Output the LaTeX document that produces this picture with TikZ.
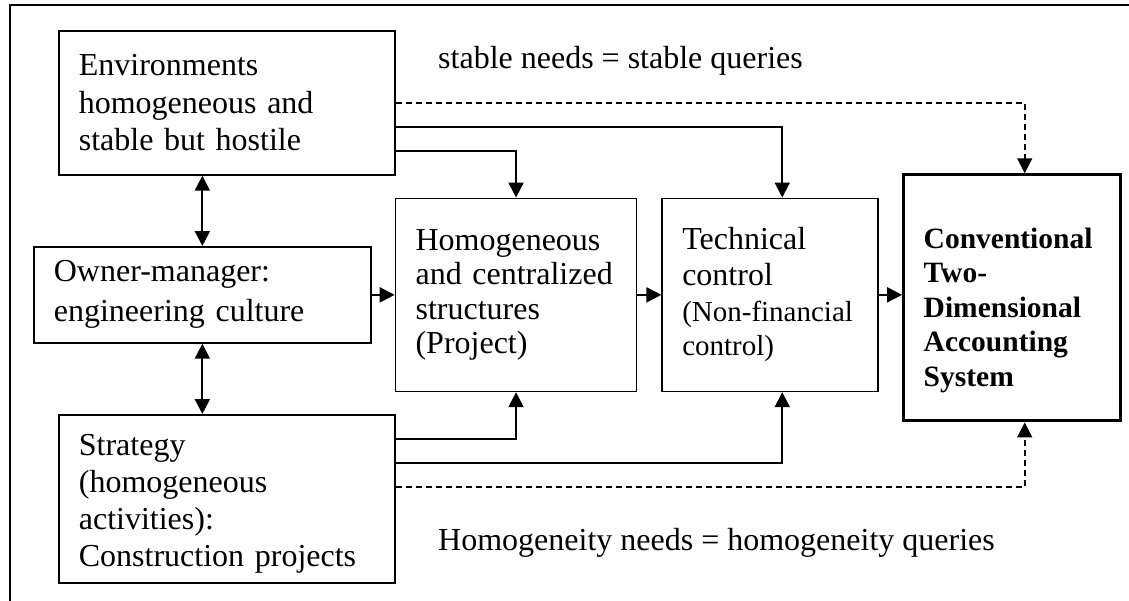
\documentclass[tikz,border=0pt]{standalone}
\usepackage{fontspec}
\setmainfont{Liberation Serif}
\usetikzlibrary{arrows.meta,positioning}

\newcommand{\boxfont}{\fontsize{32}{37}\selectfont}
\newcommand{\smallboxfont}{\fontsize{29}{34}\selectfont}
\newcommand{\convfont}{\fontsize{29.5}{34.5}\selectfont\bfseries}

\begin{document}
\begin{tikzpicture}[
    x=1pt, y=-1pt,
    node distance=23pt,
    box/.style={rectangle, draw, line width=1.7pt, align=left, inner xsep=20pt, inner ysep=0pt, font=\boxfont},
    arr/.style={-{Triangle[length=15pt,width=15pt]}, line width=2pt},
    biarr/.style={{Triangle[length=15pt,width=15pt]}-{Triangle[length=15pt,width=15pt]}, line width=2pt},
    dasharr/.style={-{Triangle[length=15pt,width=15pt]}, line width=1.6pt, dash pattern=on 6pt off 4pt},
    lbl/.style={anchor=base west, inner sep=0pt, font=\boxfont}
]
    \useasboundingbox (0,0) rectangle (1129,600);
    \draw[line width=1.7pt] (10,5) rectangle (1160,640);

    % Boxes
    \node[box, anchor=north west, text width=296pt, minimum height=144pt, font=\fontsize{32}{37.5}\selectfont] (env) at (58,30)
        {Environments\\homogeneous and\\stable but hostile};
    \node[box, anchor=north west, text width=297pt, minimum height=96pt, font=\fontsize{32}{40}\selectfont] (owner) at (33,246)
        {Owner-manager:\\engineering culture};
    \node[box, anchor=north west, text width=296pt, minimum height=168pt] (strat) at (58,414)
        {\rule{0pt}{32pt}Strategy\\(homogeneous\\activities):\\Construction projects};
    \node[box, right=of owner, text width=201pt, minimum height=193pt, font=\fontsize{32}{34.5}\selectfont] (homog)
        {Homogeneous\\and centralized\\structures\\(Project)};
    \node[box, right=24pt of homog, text width=176pt, minimum height=193pt, font=\fontsize{32}{34}\selectfont] (tech)
        {Technical\\[2pt]control\\[2pt]{\smallboxfont (Non-financial}\\{\smallboxfont control)}};
    \node[box, right=of tech, yshift=-3pt, line width=3.2pt, text width=177pt, minimum height=246pt, font=\convfont] (conv)
        {\rule{0pt}{45pt}Conventional\\Two-\\Dimensional\\Accounting\\System};

    % Labels
    \node[lbl] (stablelbl) at (438,68) {stable needs = stable queries};
    \node[lbl] (homoglbl) at (438,550) {Homogeneity needs = homogeneity queries};

    % Arrows
    \draw[dasharr] (env.east) -| ([xshift=12.5pt]conv.north);
    \draw[arr] ([yshift=-24pt]env.east) -| ([xshift=12pt]tech.north);
    \draw[arr] ([yshift=-48pt]env.east) -| (homog.north);
    \draw[biarr] (owner.north) -- (owner.north |- env.south);
    \draw[biarr] (owner.south) -- (owner.south |- strat.north);
    \draw[arr] (owner.east) -- (owner.east -| homog.west);
    \draw[arr] (homog.east) -- (homog.east -| tech.west);
    \draw[arr] (tech.east) -- (tech.east -| conv.west);
    \draw[arr] ([yshift=60pt]strat.east) -| (homog.south);
    \draw[arr] ([yshift=36pt]strat.east) -| ([xshift=12pt]tech.south);
    \draw[dasharr] ([yshift=12pt]strat.east) -| ([xshift=12.5pt]conv.south);

\end{tikzpicture}
\end{document}
